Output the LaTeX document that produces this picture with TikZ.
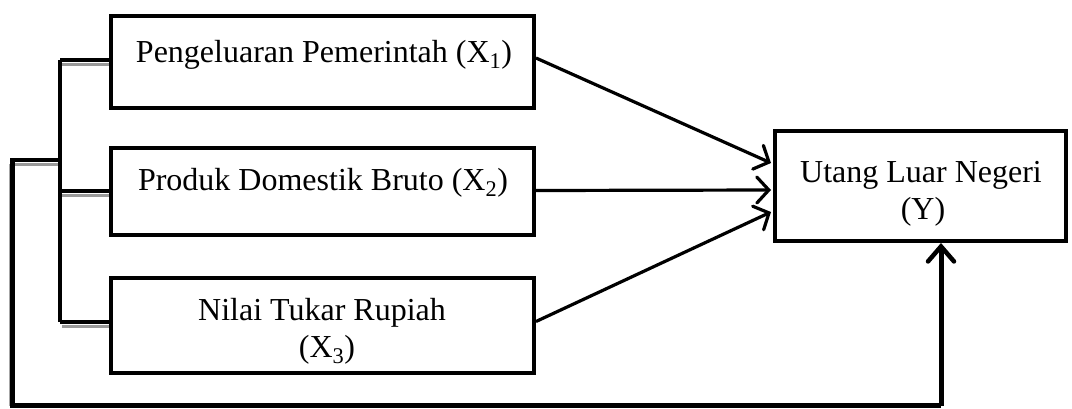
\documentclass[tikz,border=0pt]{standalone}
\usepackage{fontspec}
\setmainfont{Liberation Serif}
\usetikzlibrary{arrows.meta,calc}
\begin{document}
\begin{tikzpicture}[x=1pt,y=-1pt,
  box/.style={draw,line width=4pt,inner sep=0pt},
  lbl/.style={font=\fontsize{32}{37}\selectfont,anchor=base,inner sep=0pt},
  conn/.style={line width=4.5pt},
  shadowline/.style={line width=3pt,draw=gray!80},
  arr/.style={line width=3.2pt,-{Straight Barb[length=12pt,width=26pt,line width=3.2pt,line cap=round]}},
  uparr/.style={line width=5pt,-{Straight Barb[length=15pt,width=26pt,line width=4.5pt,line cap=round]}}]
\useasboundingbox (0,0) rectangle (1072,408);
% boxes
\node[box,minimum width=423pt,minimum height=92pt] (x1) at (322.5,62) {};
\node[box,minimum width=423pt,minimum height=87pt] (x2) at (322.5,191.5) {};
\node[box,minimum width=423pt,minimum height=95pt] (x3) at (322.5,325.5) {};
\node[box,minimum width=291pt,minimum height=110pt] (y) at (920.5,186) {};
% labels
\node[lbl] (t1) at (324,62) {Pengeluaran Pemerintah (X\textsubscript{1})};
\node[lbl] (t2) at (323,190) {Produk Domestik Bruto (X\textsubscript{2})};
\node[lbl] (t3a) at (322,320) {Nilai Tukar Rupiah};
\node[lbl] (t3b) at (327,357) {(X\textsubscript{3})};
\node[lbl] (ya) at (921,182) {Utang Luar Negeri};
\node[lbl] (yb) at (923,219) {(Y)};
% bracket coordinates
\coordinate (b1) at (60,60);
\coordinate (b2) at (60,191);
\coordinate (b3) at (60,322);
\coordinate (bm) at (60,160);
\coordinate (o1) at (12.5,160);
\coordinate (o2) at (12.5,405.5);
\coordinate (o3) at (941,405.5);
% shadows
\draw[shadowline] ($(b1)+(2,4)$) -- ($(x1.west |- b1)+(0,4)$);
\draw[shadowline] ($(b2)+(2,4)$) -- ($(x2.west |- b2)+(0,4)$);
\draw[shadowline] ($(b3)+(2,4)$) -- ($(x3.west |- b3)+(0,4)$);
\draw[shadowline] ($(o1)+(0,4)$) -- ($(bm)+(-2,4)$);
\draw[draw=gray!70,line width=1.5pt] ($(o1)+(-3,4)$) -- ($(o2)+(-3,0)$);
% bracket
\draw[conn] (b1) -- (b3);
\draw[conn] (b1) -- (x1.west |- b1);
\draw[conn] (b2) -- (x2.west |- b2);
\draw[conn] (b3) -- (x3.west |- b3);
\draw[conn,line join=miter] (bm) -- (o1) -- (o2) -- (o3);
\draw[uparr] (o3) -- (o3 |- y.south);
% arrows
\draw[arr] ($(x1.east)+(0,-4)$) -- ($(y.west)+(-2,-23)$);
\draw[arr] ($(x2.east)+(0,-1)$) -- ($(y.west)+(-2,4)$);
\draw[arr] ($(x3.east)+(0,-4)$) -- ($(y.west)+(-2,26)$);
\end{tikzpicture}
\end{document}
